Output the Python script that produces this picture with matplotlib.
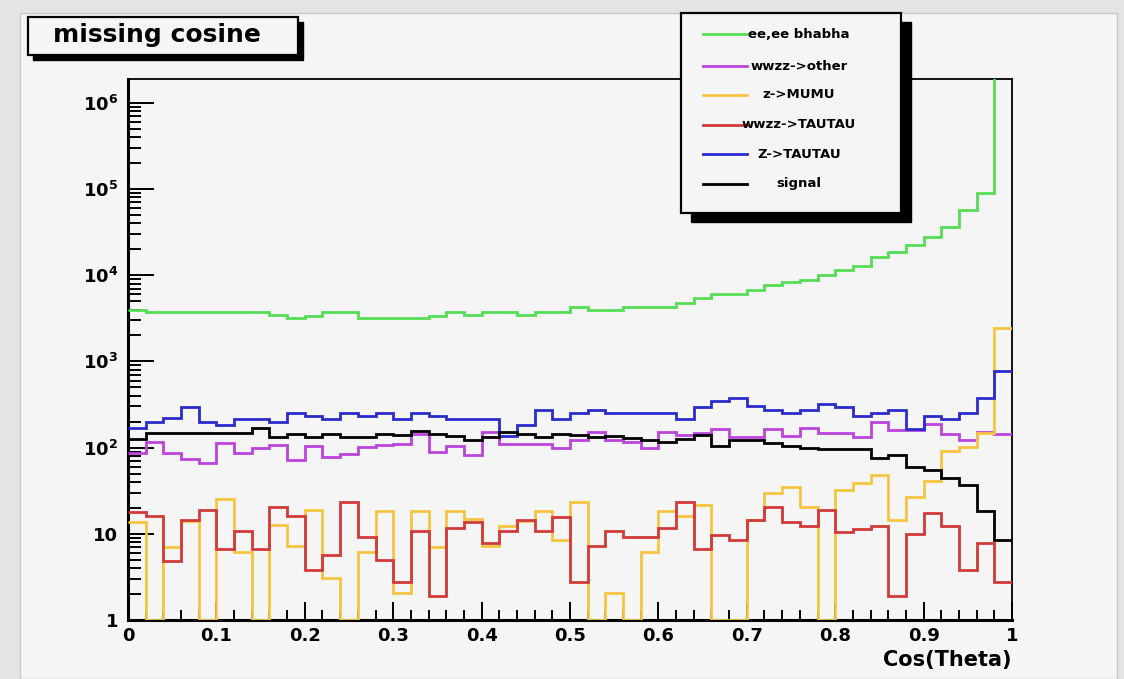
import numpy as np
import matplotlib
matplotlib.use("Agg")
import matplotlib.pyplot as plt
from matplotlib.patches import Rectangle
from matplotlib.lines import Line2D
from matplotlib.ticker import FixedLocator, FixedFormatter, LogLocator, MultipleLocator, NullFormatter

W, H = 1124, 679

# 50 bins of cos(theta) from 0 to 1
edges = np.linspace(0, 1, 51)

bhabha = [3900, 3700, 3700, 3700, 3700, 3700, 3700, 3700, 3430, 3160,
          3390, 3700, 3700, 3160, 3160, 3160, 3160, 3390, 3700, 3430,
          3700, 3700, 3430, 3700, 3700, 4240, 3900, 3900, 4240, 4240,
          4240, 4750, 5370, 6110, 6110, 6750, 7700, 8400, 8900, 10100,
          11500, 12800, 16400, 18700, 22200, 28000, 36600, 57000, 89600, 2.2e6]
wwzz_other = [86, 117, 87, 73, 66, 112, 86, 98, 107, 72,
              104, 77, 84, 101, 107, 110, 143, 90, 104, 83,
              153, 110, 110, 110, 100, 122, 153, 124, 117, 98,
              153, 140, 146, 163, 133, 133, 165, 135, 167, 146,
              146, 132, 197, 158, 158, 188, 145, 123, 150, 145]
z_mumu = [13.6, 1, 7.1, 14, 1, 25.3, 6.2, 1, 12.8, 7.3,
          18.7, 3.1, 1, 6.1, 18.5, 2.05, 18.5, 7.05, 18.5, 14.9,
          7.2, 12.4, 14.1, 18.5, 8.5, 23.3, 1, 2.04, 1, 6.2,
          18.5, 16, 21.6, 1, 1, 14.6, 29.5, 34.8, 20.2, 1,
          32, 38.5, 47.5, 14.6, 27, 41, 91, 103, 148, 2450]
wwzz_tautau = [17.8, 16, 4.85, 14.6, 18.7, 6.7, 10.7, 6.7, 20.2, 16,
               3.8, 5.7, 23.6, 9.2, 5.0, 2.78, 10.8, 1.9, 11.8, 13.7,
               7.8, 10.8, 14.6, 10.9, 15.8, 2.78, 7.2, 10.7, 9.2, 9.2,
               11.8, 23.6, 6.7, 9.8, 8.4, 14.6, 20.5, 13.6, 12.4, 18.7,
               10.6, 11.4, 12.4, 1.9, 9.9, 17.3, 12.4, 3.8, 7.8, 2.78]
z_tautau = [167, 200, 219, 293, 200, 185, 216, 216, 200, 252,
            230, 216, 252, 232, 252, 216, 252, 233, 213, 213,
            213, 137, 183, 272, 213, 252, 272, 252, 252, 252,
            252, 213, 298, 345, 372, 305, 272, 254, 272, 318,
            294, 230, 251, 272, 163, 230, 213, 254, 372, 770]
signal = [127, 146, 146, 146, 146, 146, 146, 168, 134, 144,
          134, 144, 134, 134, 144, 140, 156, 144, 135, 122,
          134, 152, 144, 134, 144, 140, 134, 138, 130, 121,
          116, 125, 140, 104, 124, 124, 114, 105, 98, 96,
          96, 96, 76, 83, 60, 55, 44, 37, 18.5, 8.5]

names = ["ee,ee bhabha", "wwzz->other", "z->MUMU", "wwzz->TAUTAU", "Z->TAUTAU", "signal"]
colors = ["#55dd55", "#bb44dd", "#f5c542", "#d23a3a", "#2b2bcc", "black"]
series = [bhabha, wwzz_other, z_mumu, wwzz_tautau, z_tautau, signal]

xticks = [0, 0.1, 0.2, 0.3, 0.4, 0.5, 0.6, 0.7, 0.8, 0.9, 1]
yticks = [1, 10, 1e2, 1e3, 1e4, 1e5, 1e6]
ylabels = ["1", "10", r"$\mathbf{10^{2}}$", r"$\mathbf{10^{3}}$", r"$\mathbf{10^{4}}$",
           r"$\mathbf{10^{5}}$", r"$\mathbf{10^{6}}$"]


def fx(x):
    return x / W


def fy(y):
    return 1 - y / H


fig = plt.figure(figsize=(W / 100, H / 100), dpi=100, facecolor="#e4e4e4")

# pad
fig.add_artist(Rectangle((fx(20), 0), fx(1117) - fx(20), fy(13), transform=fig.transFigure,
                         facecolor="#f5f5f5", edgecolor="#c8c8c8", lw=1, zorder=-1))

ax = fig.add_axes([fx(128), fy(620), fx(1012) - fx(128), fy(79) - fy(620)])
ax.set_facecolor("none")

for vals, c in zip(series, colors):
    ax.stairs(vals, edges, baseline=None, color=c, lw=2, zorder=3)

ax.set_yscale("log")
ax.set_xlim(0, 1)
ax.set_ylim(1, 1.89e6)

ax.xaxis.set_major_locator(FixedLocator(xticks))
ax.xaxis.set_major_formatter(FixedFormatter(["%g" % t for t in xticks]))
ax.xaxis.set_minor_locator(MultipleLocator(0.02))
ax.yaxis.set_major_locator(FixedLocator(yticks))
ax.yaxis.set_major_formatter(FixedFormatter(ylabels))
ax.yaxis.set_minor_locator(LogLocator(base=10, subs=np.arange(2, 10), numticks=20))
ax.yaxis.set_minor_formatter(NullFormatter())

ax.tick_params(axis="both", which="both", direction="in", top=False, right=False, color="black")
ax.tick_params(axis="x", which="major", length=13, width=1.4, pad=5, labelsize=13)
ax.tick_params(axis="x", which="minor", length=7, width=1.4)
ax.tick_params(axis="y", which="major", length=19, width=1.4, pad=7, labelsize=13)
ax.tick_params(axis="y", which="minor", length=9, width=1.4)
for lab in ax.get_xticklabels() + ax.get_yticklabels():
    lab.set_fontweight("bold")

for s in ["left", "bottom"]:
    ax.spines[s].set_linewidth(2.2)
for s in ["top", "right"]:
    ax.spines[s].set_linewidth(1.3)

fig.text(fx(1012), fy(660), "Cos(Theta)", ha="right", va="center", fontsize=15, fontweight="bold")

# title box
fig.add_artist(Rectangle((fx(33), fy(60)), fx(270), 38 / H, transform=fig.transFigure,
                         facecolor="black", edgecolor="black", zorder=4))
fig.add_artist(Rectangle((fx(28), fy(55)), fx(270), 38 / H, transform=fig.transFigure,
                         facecolor="#f5f5f5", edgecolor="black", lw=1.6, zorder=5))
fig.text(fx(157), fy(35), "missing cosine", ha="center", va="center", fontsize=18,
         fontweight="bold", zorder=6)

# legend box
fig.add_artist(Rectangle((fx(691), fy(222)), fx(220), 200 / H, transform=fig.transFigure,
                         facecolor="black", edgecolor="black", zorder=4))
fig.add_artist(Rectangle((fx(681), fy(213)), fx(220), 200 / H, transform=fig.transFigure,
                         facecolor="#f5f5f5", edgecolor="black", lw=1.6, zorder=5))
leg_y = [34, 66, 95, 125, 154, 184]
for name, c, yy in zip(names, colors, leg_y):
    fig.add_artist(Line2D([fx(703), fx(747)], [fy(yy), fy(yy)], transform=fig.transFigure,
                          color=c, lw=2, zorder=6))
    fig.text(fx(799), fy(yy), name, ha="center", va="center", fontsize=9.5,
             fontweight="bold", zorder=7)

fig.savefig("out.png", dpi=100, facecolor=fig.get_facecolor())
